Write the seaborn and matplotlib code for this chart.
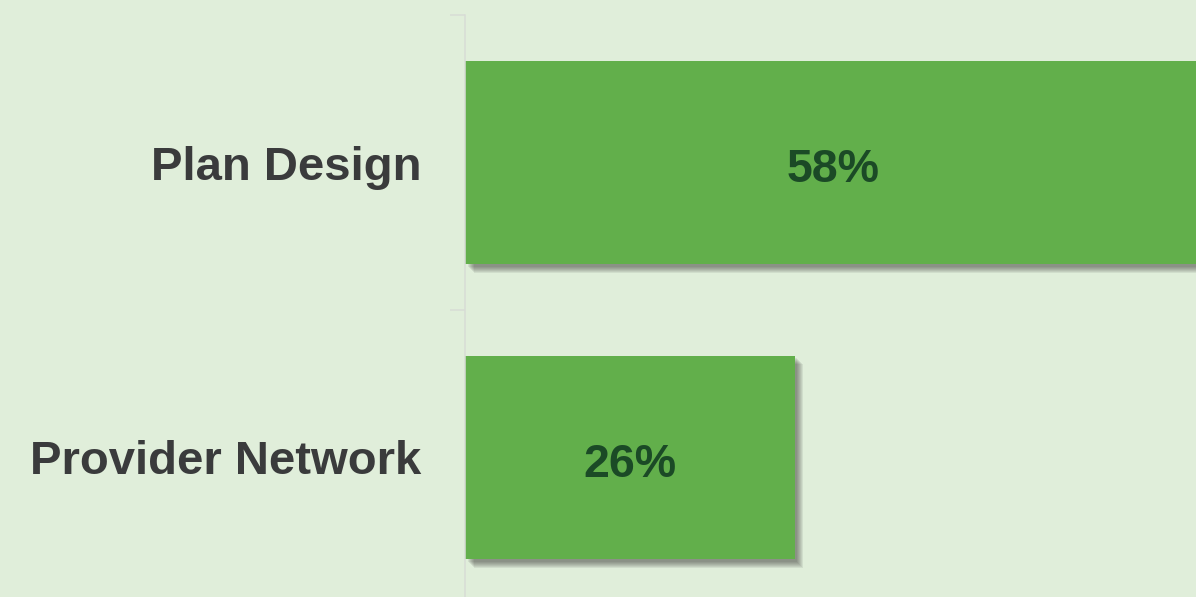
import matplotlib
matplotlib.use("Agg")
import matplotlib.pyplot as plt
import matplotlib.patheffects as pe
import seaborn as sns
import pandas as pd

categories = ["Plan Design", "Provider Network"]
values = [58, 26]
value_labels = ["58%", "26%"]

BG = "#E0EEDA"
BAR = "#62AF4B"
VALUE_TXT = "#1B4A26"
CAT_TXT = "#3A3B3C"
AXIS = "#D8DCD6"

sns.set_theme(style="white")
plt.rcParams["font.family"] = ["Liberation Sans", "DejaVu Sans"]

W, H = 1196, 597
fig = plt.figure(figsize=(W / 100, H / 100), dpi=100, facecolor=BG)
# axes spans y from 15px to 605px (2 category bands of 295px), x scale 12.69 px per %
left = 465 / W
top = 15 / H
ax_h = 590 / H
ax_w = 60 * 12.69 / W
ax = fig.add_axes([left, 1 - top - ax_h, ax_w, ax_h])
ax.set_facecolor(BG)

df = pd.DataFrame({"category": categories, "value": values})
sns.barplot(data=df, x="value", y="category", orient="h", color=BAR,
            saturation=1, width=0.69, ax=ax)

# soft drop shadow built from stacked offset layers
shadow = []
for d in [8.5, 7.5, 6.5, 5.5, 4.5, 3.5, 2.5]:
    shadow.append(pe.SimplePatchShadow(offset=(d * 0.72, -d * 0.72),
                                       shadow_rgbFace="#2e2e2e", alpha=0.085))
shadow.append(pe.Normal())
for p in ax.patches:
    p.set_edgecolor("none")
    p.set_path_effects(shadow)

for p, lab in zip(ax.patches, value_labels):
    cx = p.get_x() + p.get_width() / 2
    cy = p.get_y() + p.get_height() / 2
    ax.text(cx, cy + 0.066, lab, ha="center", va="baseline", fontsize=33.5,
            fontweight="bold", color=VALUE_TXT)

ax.set_xlim(0, 60)
ax.set_ylim(1.5, -0.5)
ax.set_xlabel("")
ax.set_ylabel("")
ax.set_xticks([])

ax.set_yticks([0, 1])
ax.set_yticklabels(categories, fontsize=34, fontweight="bold", color=CAT_TXT)
ax.tick_params(axis="y", which="major", length=0, pad=31.5)
ax.set_yticks([-0.5, 0.5, 1.5], minor=True)
ax.tick_params(axis="y", which="minor", length=10.8, width=1.1, color=AXIS, left=True)

for s in ["top", "right", "bottom"]:
    ax.spines[s].set_visible(False)
ax.spines["left"].set_color(AXIS)
ax.spines["left"].set_linewidth(1.1)

fig.savefig("out.png", dpi=100, facecolor=BG)
